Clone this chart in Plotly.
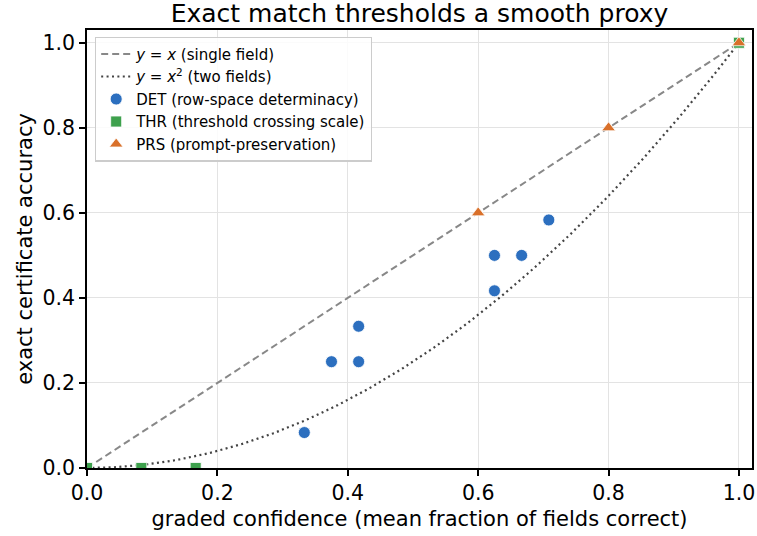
import numpy as np
import plotly.graph_objects as go

# DET (row-space determinacy)
det_x = [1/3, 3/8, 5/12, 5/12, 5/8, 5/8, 2/3, 17/24]
det_y = [1/12, 0.25, 0.25, 1/3, 0.5, 5/12, 0.5, 7/12]
# THR (threshold crossing scale)
thr_x = [0.0, 1/12, 1/6, 1.0]
thr_y = [0.0, 0.0, 0.0, 1.0]
# PRS (prompt-preservation)
prs_x = [0.6, 0.8, 1.0]
prs_y = [0.6, 0.8, 1.0]

tick_vals = [0, 0.2, 0.4, 0.6, 0.8, 1.0]
tick_text = ["0.0", "0.2", "0.4", "0.6", "0.8", "1.0"]

ref_x = np.linspace(0, 1, 201)

FONT = "DejaVu Sans"
fig = go.Figure()
fig.add_trace(go.Scatter(x=ref_x, y=ref_x, mode="lines",
                         line=dict(color="#888888", width=2, dash="7px,4px"),
                         name="<i>y</i> = <i>x</i> (single field)"))
fig.add_trace(go.Scatter(x=ref_x, y=ref_x**2, mode="lines",
                         line=dict(color="#444444", width=2.2, dash="2px,3.4px"),
                         name="<i>y</i> = <i>x</i><sup>2</sup> (two fields)"))
fig.add_trace(go.Scatter(x=det_x, y=det_y, mode="markers",
                         marker=dict(symbol="circle", size=12, color="#2c6fbf",
                                     line=dict(width=0.8, color="white")),
                         name="DET (row-space determinacy)"))
fig.add_trace(go.Scatter(x=thr_x, y=thr_y, mode="markers",
                         marker=dict(symbol="square", size=11, color="#3ea14d",
                                     line=dict(width=0.8, color="white")),
                         name="THR (threshold crossing scale)"))
fig.add_trace(go.Scatter(x=prs_x, y=prs_y, mode="markers",
                         marker=dict(symbol="triangle-up", size=12, color="#d9702a",
                                     line=dict(width=0.8, color="white")),
                         name="PRS (prompt-preservation)"))

axis_common = dict(
    showline=True, linecolor="black", linewidth=1.5, mirror=True,
    ticks="outside", ticklen=6, tickwidth=1.5, tickcolor="black",
    showgrid=True, gridcolor="#e3e3e3", gridwidth=1.2,
    zeroline=False, tickfont=dict(family=FONT, size=20.5, color="black"),
    tickvals=tick_vals, ticktext=tick_text, automargin=False,
)

fig.update_layout(
    width=757, height=536,
    margin=dict(l=87, r=5, t=30, b=68),
    paper_bgcolor="white", plot_bgcolor="white",
    font=dict(family=FONT, color="black"),
    title=dict(text="Exact match thresholds a smooth proxy", x=(87 + 752) / 2 / 757,
               xanchor="center", y=1 - 13 / 536, yanchor="middle",
               font=dict(family=FONT, size=25, color="black")),
    xaxis=dict(range=[0, 1.02], title=dict(text="graded confidence (mean fraction of fields correct)",
                                            font=dict(family=FONT, size=21), standoff=7),
               **axis_common),
    yaxis=dict(range=[0, 1.03], title=dict(text="exact certificate accuracy",
                                            font=dict(family=FONT, size=21), standoff=4),
               **axis_common),
    legend=dict(x=0.012, y=0.985, xanchor="left", yanchor="top",
                bgcolor="rgba(255,255,255,0.85)", bordercolor="#cccccc", borderwidth=1.2,
                font=dict(family=FONT, size=15, color="black"), tracegroupgap=0),
    showlegend=True,
)

fig.write_html("out.html", config={"displayModeBar": False},
               post_script="document.body.style.margin='0';document.body.style.overflow='hidden';")
